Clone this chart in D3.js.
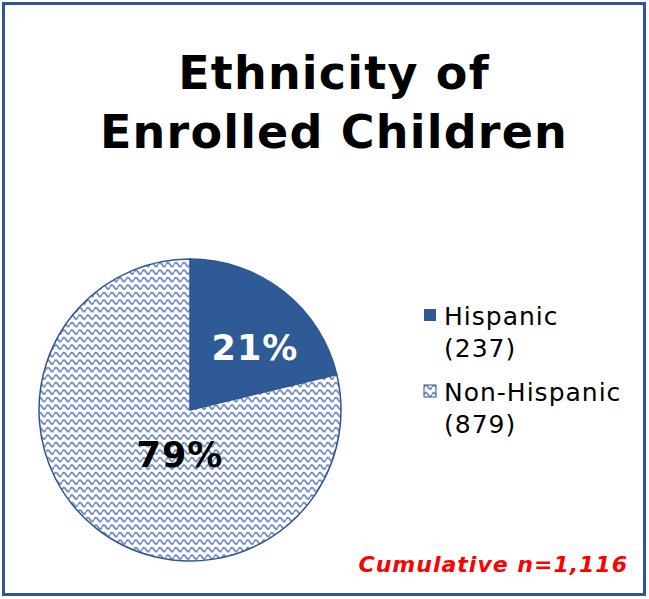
<!DOCTYPE html>
<html><head><meta charset="utf-8">
<script src="https://cdn.jsdelivr.net/npm/d3@7"></script>
<style>body{margin:0;background:#fff;}svg{display:block;font-family:"DejaVu Sans",Verdana,sans-serif;}</style>
</head><body>
<script>
const categories = ["Hispanic", "Non-Hispanic"];
const counts = [237, 879];
const pctLabels = ["21%", "79%"];
const legendCounts = ["(237)", "(879)"];
const titleLines = ["Ethnicity of", "Enrolled Children"];
const footnote = "Cumulative n=1,116";

const W = 649, H = 599;
const svg = d3.select("body").append("svg").attr("width", W).attr("height", H);
const defs = svg.append("defs");
const pat = defs.append("pattern").attr("id","wave").attr("patternUnits","userSpaceOnUse")
  .attr("width",8).attr("height",7.5);
pat.append("rect").attr("width",8).attr("height",7.5).attr("fill","#fff");
pat.append("path").attr("d","M0,4.5 Q2,0.5 4,4.5 T8,4.5").attr("fill","none").attr("stroke","#6d88bf").attr("stroke-width",1.8);

svg.append("rect").attr("x",3.5).attr("y",3.5).attr("width",W-8).attr("height",H-8)
  .attr("fill","none").attr("stroke","#2f5597").attr("stroke-width",3);

svg.selectAll("text.title").data(titleLines).join("text").attr("class","title")
  .attr("x",334).attr("y",(d,i)=>89+i*59).attr("text-anchor","middle")
  .attr("font-weight","bold").attr("font-size",46).attr("letter-spacing",1.2).attr("fill","#000").text(d=>d);

const cx = 190, cy = 410, r = 151;
const pie = d3.pie().sort(null).value(d=>d)(counts);
const arc = d3.arc().innerRadius(0).outerRadius(r);
const fills = ["#2e5a96", "url(#wave)"];
const g = svg.append("g").attr("transform",`translate(${cx},${cy})`);
g.selectAll("path").data(pie).join("path").attr("d",arc)
  .attr("fill",(d,i)=>fills[i]).attr("stroke","#2f5597").attr("stroke-width",1.5);

const labelPos = [[65,-62],[-10,45]];
g.selectAll("text").data(pie).join("text")
  .attr("x",(d,i)=>labelPos[i][0]).attr("y",(d,i)=>labelPos[i][1]+12)
  .attr("text-anchor","middle").attr("font-weight","bold").attr("font-size",35).attr("letter-spacing",1)
  .attr("fill",(d,i)=>i===0?"#fff":"#000").text((d,i)=>pctLabels[i]);

const lg = svg.append("g");
const ly = [309, 385];
categories.forEach((c,i)=>{
  lg.append("rect").attr("x",424).attr("y",ly[i]).attr("width",12).attr("height",12)
    .attr("fill",fills[i]).attr("stroke",i?"#2f5597":"none").attr("stroke-width",1);
  lg.append("text").attr("x",444).attr("y",ly[i]+16).attr("font-size",25).attr("letter-spacing",1).attr("fill","#000").text(c);
  lg.append("text").attr("x",444).attr("y",ly[i]+48).attr("font-size",25).attr("letter-spacing",1).attr("fill","#000").text(legendCounts[i]);
});

svg.append("text").attr("x",628).attr("y",572).attr("text-anchor","end")
  .attr("font-weight","bold").attr("font-style","italic").attr("font-size",22).attr("letter-spacing",1)
  .attr("fill","#ff0000").text(footnote);
</script>
</body></html>
